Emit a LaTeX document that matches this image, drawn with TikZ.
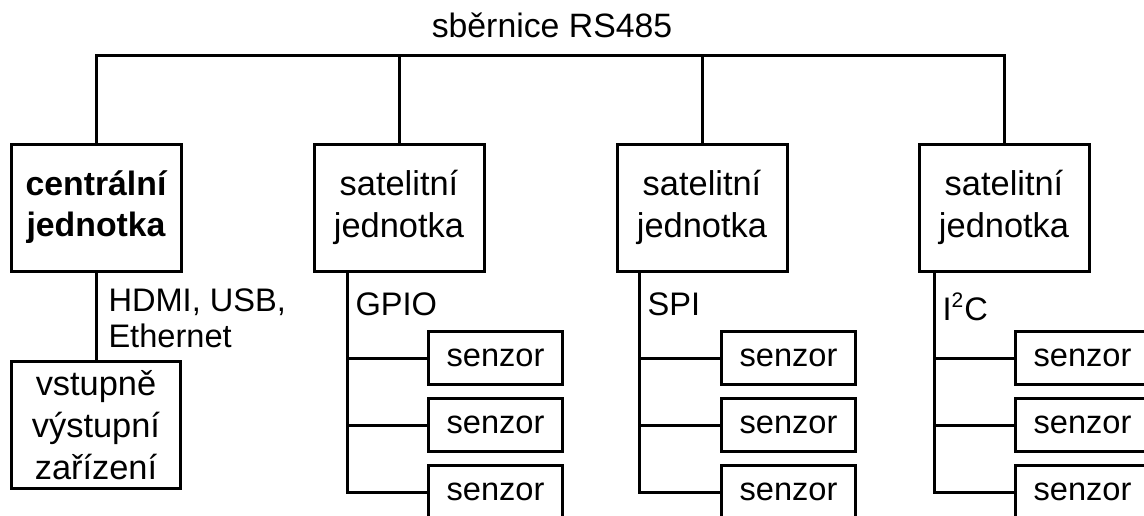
\documentclass[tikz,border=0pt]{standalone}
\usepackage{fontspec}
\setmainfont{Liberation Sans}
\usetikzlibrary{positioning}

\begin{document}
\begin{tikzpicture}[x=0.5pt,y=0.5pt,line width=1.5pt,
	unit/.style={minimum width=85pt,minimum height=63.5pt,font=\fontsize{17.2}{21}\selectfont},
	senzorbox/.style={minimum width=67pt,minimum height=26.5pt},
	iface/.style={draw=none,inner sep=0pt,anchor=base west}]
	\clip (0,0) rectangle (1144,-515);
	\begin{scope}[every node/.style={rectangle,draw,align=center,font=\fontsize{16.3}{21}\selectfont}]
		\node[draw=none,anchor=base,font=\fontsize{16.9}{21}\selectfont] (bus) at (552,-37) {sběrnice RS485};
		\node[unit,font=\fontsize{16.9}{20.5}\selectfont\bfseries] (C) at (96,-207.5) {centrální\\jednotka};
		\node[unit] (S1) at (399,-207.5) {satelitní\\jednotka};
		\node[unit] (S2) at (702,-207.5) {satelitní\\jednotka};
		\node[unit] (S3) at (1004,-207.5) {satelitní\\jednotka};
		\node[unit,minimum width=84.5pt] (IO) at (96,-425) {vstupně\\výstupní\\zařízení};
		\node[iface,align=left,anchor=west,font=\fontsize{16.3}{18}\selectfont] (hdmi) at (107,-318.5) {HDMI, USB,\\Ethernet};

		\node[iface] (gpio) at (354,-315) {GPIO};
		\node[iface] (spi) at (646,-315) {SPI};
		\node[iface] (iic) at (941,-320) {I\textsuperscript{\fontsize{10.5}{10.5}\selectfont 2}C};

		\node[senzorbox] (S1a) at (495.5,-358) {senzor};
		\node[senzorbox,below=5.5pt of S1a] (S1b) {senzor};
		\node[senzorbox,below=5.5pt of S1b] (S1c) {senzor};
		\node[senzorbox] (S2a) at (788.5,-358) {senzor};
		\node[senzorbox,below=5.5pt of S2a] (S2b) {senzor};
		\node[senzorbox,below=5.5pt of S2b] (S2c) {senzor};
		\node[senzorbox] (S3a) at (1082.5,-358) {senzor};
		\node[senzorbox,below=5.5pt of S3a] (S3b) {senzor};
		\node[senzorbox,below=5.5pt of S3b] (S3c) {senzor};
	\end{scope}

	\begin{scope}
		% sbernice RS485
		\coordinate (busR) at (1004,-55);
		\draw (C) |- (busR) -- (S3);
		\draw (S1) -- (S1 |- busR);
		\draw (S2) -- (S2 |- busR);
		\draw (C) -- (IO);

		% lokalni sbernice k senzorum
		\coordinate (g1) at ([xshift=17.5pt]S1.south west);
		\draw (g1) |- (S1c.west);
		\draw (g1 |- S1a.west) -- (S1a.west);
		\draw (g1 |- S1b.west) -- (S1b.west);
		\coordinate (g2) at ([xshift=12pt]S2.south west);
		\draw (g2) |- (S2c.west);
		\draw (g2 |- S2a.west) -- (S2a.west);
		\draw (g2 |- S2b.west) -- (S2b.west);
		\coordinate (g3) at ([xshift=8.5pt]S3.south west);
		\draw (g3) |- (S3c.west);
		\draw (g3 |- S3a.west) -- (S3a.west);
		\draw (g3 |- S3b.west) -- (S3b.west);
	\end{scope}
\end{tikzpicture}
\end{document}
